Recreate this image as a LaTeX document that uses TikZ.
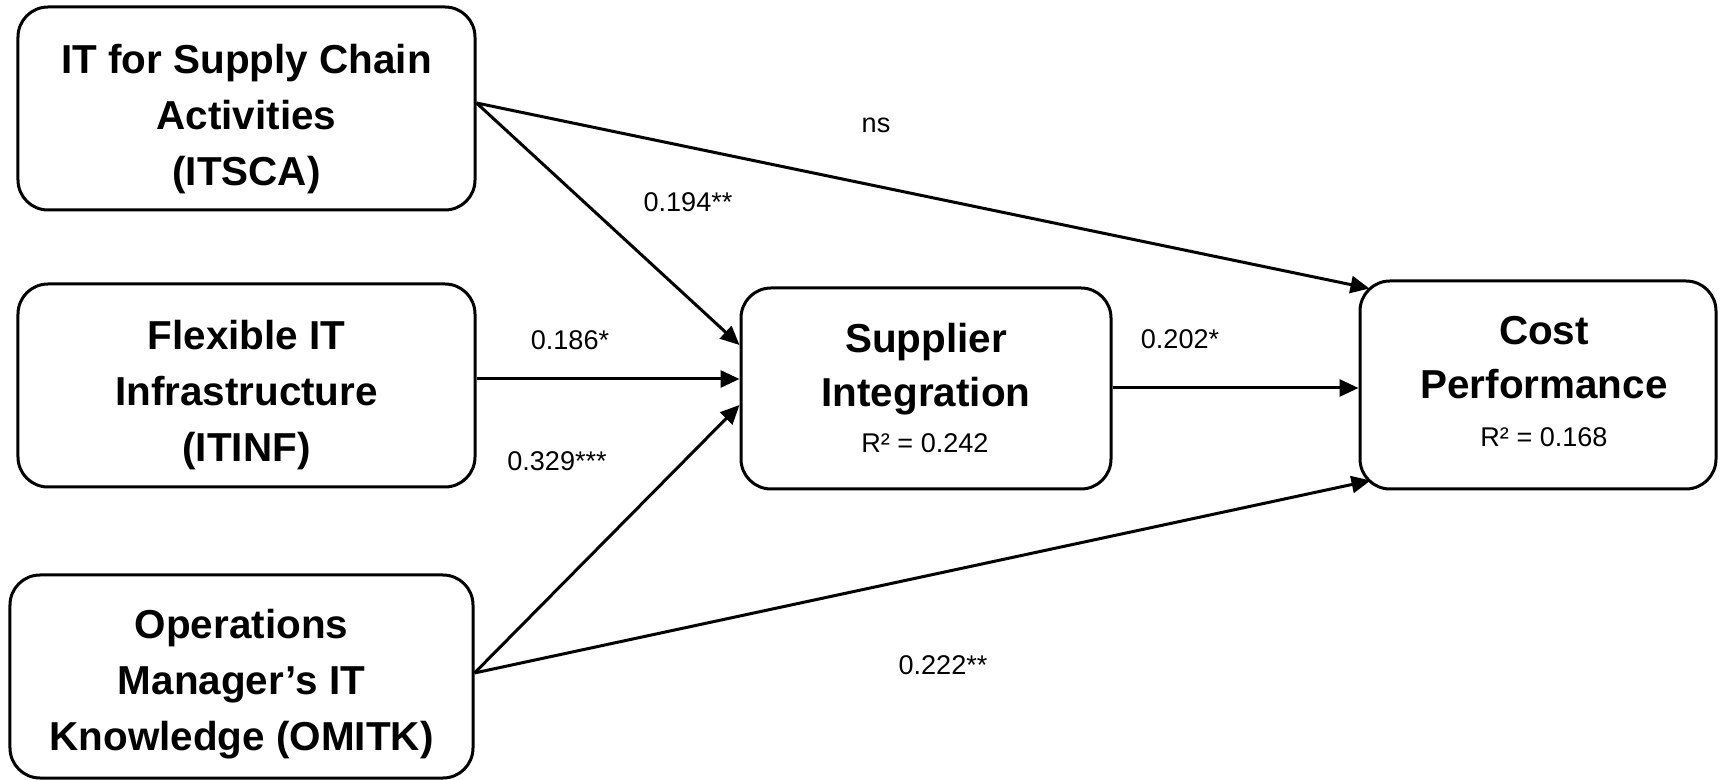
\documentclass[tikz,border=0pt]{standalone}
\usepackage{fontspec}
\setmainfont{Liberation Sans}
\usetikzlibrary{arrows.meta}

\begin{document}
\begin{tikzpicture}[
    x=1cm, y=1cm,
    every node/.style={font=\fontsize{7.7}{9.2}\selectfont},
    construct/.style={
        draw,
        line width=0.03cm,
        rounded corners=0.3cm,
        minimum width=4.57cm,
        minimum height=2.03cm
    },
    title/.style={
        align=center,
        font=\fontsize{11.5}{15.4}\selectfont\bfseries
    },
    arr/.style={-{Triangle[length=0.19cm, width=0.17cm]}, line width=0.03cm}
]
    \useasboundingbox (0,0) rectangle (17.2,-7.8);

    % Antecedents
    \node[construct] (itsca) at (2.465,-1.085) {};
    \node[title, font=\fontsize{11.5}{15.9}\selectfont\bfseries] (itscatitle) at (2.465,-1.19) {IT for Supply Chain\\Activities\\(ITSCA)};

    \node[construct] (itinf) at (2.465,-3.855) {};
    \node[title, font=\fontsize{11.5}{15.9}\selectfont\bfseries] (itinftitle) at (2.465,-3.95) {Flexible IT\\Infrastructure\\(ITINF)};

    \node[construct, minimum width=4.63cm] (omitk) at (2.415,-6.765) {};
    \node[title, font=\fontsize{11.5}{15.9}\selectfont\bfseries] (omitktitle) at (2.415,-6.84) {Operations\\Manager’s IT\\Knowledge (OMITK)};

    % Mediator
    \node[
        construct,
        minimum width=3.70cm,
        minimum height=2.01cm
    ] (supint) at (9.26,-3.885) {};

    \node[title] (supinttitle) at (9.26,-3.69) {Supplier\\Integration};
    \node[anchor=base] (supintrsq) at (9.25,-4.53) {R² = 0.242};

    % Outcome
    \node[
        construct,
        minimum width=3.56cm,
        minimum height=2.08cm
    ] (costperf) at (15.38,-3.85) {};

    \node[title] (costtitle) at (15.44,-3.58) {Cost\\Performance};
    \node[anchor=base] (costrsq) at (15.44,-4.47) {R² = 0.168};

    % Paths
    \draw[arr] ([yshift=0.055cm]itsca.east) -- ([shift={(0.11,-0.09)}]costperf.north west);
    \draw[arr] ([yshift=0.055cm]itsca.east) -- ([yshift=0.435cm]supint.west);
    \draw[arr] ([yshift=0.065cm]itinf.east) -- ([yshift=0.065cm]itinf.east -| supint.west);
    \draw[arr] ([yshift=0.035cm]omitk.east) -- ([yshift=-0.165cm]supint.west);
    \draw[arr] ([yshift=0.035cm]omitk.east) -- ([shift={(0.12,0.10)}]costperf.south west);
    \draw[arr] ([yshift=0.005cm]supint.east) -- ([yshift=0.005cm]supint.east -| costperf.west);

    % Coefficients
    \node (nslabel) at (8.76,-1.255) {ns};
    \node (itscasi) at (6.88,-2.02) {0.194**};
    \node (itinfsi) at (5.70,-3.40) {0.186*};
    \node (omitksi) at (5.57,-4.61) {0.329***};
    \node (sicost) at (11.80,-3.39) {0.202*};
    \node (omitkcost) at (9.43,-6.65) {0.222**};

\end{tikzpicture}
\end{document}
